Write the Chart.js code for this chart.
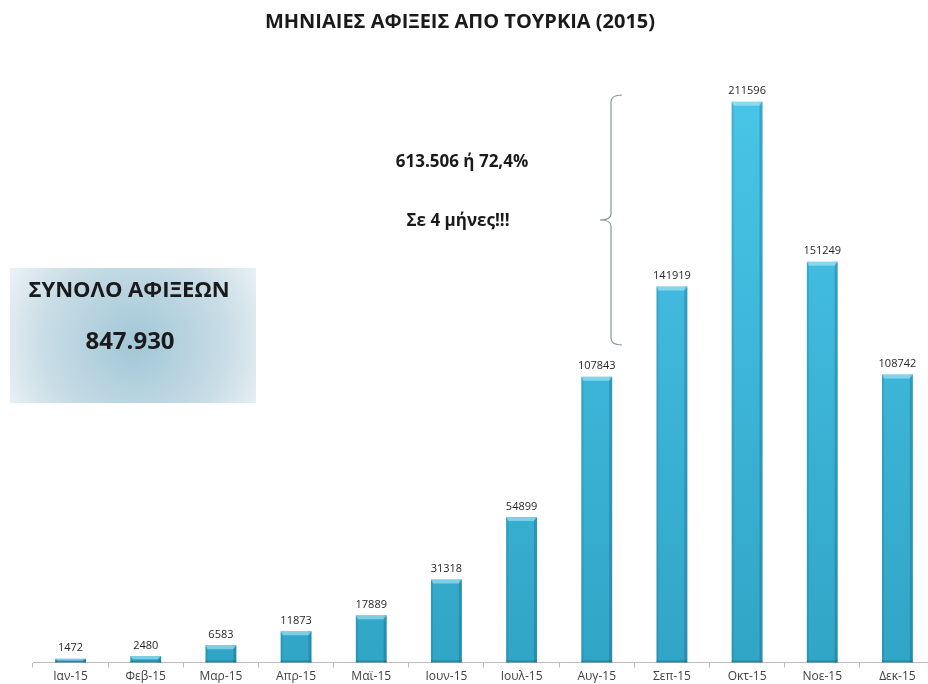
<!DOCTYPE html>
<html>
<head>
<meta charset="utf-8">
<script src="https://cdn.jsdelivr.net/npm/chart.js@4.4.1/dist/chart.umd.min.js"></script>
<style>
    html, body { margin: 0; padding: 0; background: #fff; overflow: hidden; }
    #wrap { width: 940px; height: 686px; }
</style>
</head>
<body>
<div id="wrap"><canvas id="arrivals"></canvas></div>
<script>
// Μηνιαίες αφίξεις από Τουρκία, 2015
const months = ['Ιαν-15', 'Φεβ-15', 'Μαρ-15', 'Απρ-15', 'Μαϊ-15', 'Ιουν-15',
                'Ιουλ-15', 'Αυγ-15', 'Σεπ-15', 'Οκτ-15', 'Νοε-15', 'Δεκ-15'];
const arrivals = [1472, 2480, 6583, 11873, 17889, 31318, 54899, 107843, 141919, 211596, 151249, 108742];

const chartTitle = 'ΜΗΝΙΑΙΕΣ ΑΦΙΞΕΙΣ ΑΠΟ ΤΟΥΡΚΙΑ (2015)';
const totalLabel = 'ΣΥΝΟΛΟ ΑΦΙΞΕΩΝ';
const totalValue = '847.930';
const peakNote = ['613.506 ή 72,4%', 'Σε 4 μήνες!!!'];

const FONT = '"Open Sans", "Noto Sans", sans-serif';

// bars: a little darker towards the bottom, bevelled edges drawn on top
function barFill(ctx) {
    const area = ctx.chart.chartArea;
    if (!area) return '#3bb5db';
    const g = ctx.chart.ctx.createLinearGradient(0, area.top, 0, area.bottom);
    g.addColorStop(0, '#4ccaee');
    g.addColorStop(1, '#31a5c6');
    return g;
}

const bevelPlugin = {
    id: 'bevel',
    afterDatasetsDraw(chart) {
        const c = chart.ctx;
        chart.getDatasetMeta(0).data.forEach(bar => {
            const w = bar.width, left = bar.x - w / 2, right = bar.x + w / 2;
            const top = bar.y, bottom = bar.base;
            const h = bottom - top;
            const e = Math.min(4, h / 2);
            c.save();
            // left and right edge shading
            c.fillStyle = 'rgba(10, 70, 100, 0.15)';
            c.fillRect(left, top, 2, h);
            c.fillStyle = 'rgba(10, 70, 100, 0.25)';
            c.fillRect(right - 3, top, 3, h);
            // light top cap
            c.fillStyle = 'rgba(200, 244, 255, 0.5)';
            c.beginPath();
            c.moveTo(left, top);
            c.lineTo(right, top);
            c.lineTo(right - 3, top + e);
            c.lineTo(left + 2, top + e);
            c.closePath();
            c.fill();
            // darker bottom lip
            c.fillStyle = 'rgba(10, 60, 85, 0.3)';
            c.fillRect(left, bottom - 2, w, 2);
            c.restore();
        });
    }
};

const valueLabels = {
    id: 'valueLabels',
    afterDatasetsDraw(chart) {
        const c = chart.ctx;
        c.save();
        c.font = '11px ' + FONT;
        c.fillStyle = '#262626';
        c.textAlign = 'center';
        c.textBaseline = 'bottom';
        chart.getDatasetMeta(0).data.forEach((bar, i) => {
            c.fillText(String(arrivals[i]), bar.x, bar.y - 5);
        });
        c.restore();
    }
};

const decorations = {
    id: 'decorations',
    beforeDatasetsDraw(chart) {
        const c = chart.ctx;
        c.save();
        // total box
        const bx = 10, by = 268, bw = 246, bh = 135;
        const rg = c.createRadialGradient(135, 345, 5, 135, 340, 150);
        rg.addColorStop(0, '#a3c8d8');
        rg.addColorStop(0.6, '#c9dde6');
        rg.addColorStop(1, '#eef4f7');
        c.fillStyle = rg;
        c.fillRect(bx, by, bw, bh);
        c.restore();
    },
    afterDraw(chart) {
        const c = chart.ctx;
        c.save();
        c.fillStyle = '#1a1a1a';
        c.textAlign = 'center';
        c.textBaseline = 'middle';

        c.font = 'bold 20px ' + FONT;
        c.fillText(chartTitle, 460, 22);

        c.font = 'bold 22px ' + FONT;
        c.fillText(totalLabel, 129, 291);
        c.font = 'bold 24px ' + FONT;
        c.fillText(totalValue, 130, 342);

        c.font = 'bold 17px ' + FONT;
        c.fillText(peakNote[0], 462, 162);
        c.fillText(peakNote[1], 458, 221);

        // brace over the four peak months
        c.strokeStyle = '#8496a0';
        c.lineWidth = 1.2;
        c.beginPath();
        c.moveTo(622, 95);
        c.quadraticCurveTo(611, 95, 611, 102);
        c.lineTo(611, 214);
        c.quadraticCurveTo(611, 220, 600, 220);
        c.quadraticCurveTo(611, 220, 611, 226);
        c.lineTo(611, 338);
        c.quadraticCurveTo(611, 345, 622, 345);
        c.stroke();
        c.restore();
    }
};

new Chart(document.getElementById('arrivals'), {
    type: 'bar',
    data: {
        labels: months,
        datasets: [{
            data: arrivals,
            backgroundColor: barFill,
            borderWidth: 0,
            barPercentage: 0.5,
            categoryPercentage: 0.82
        }]
    },
    options: {
        responsive: true,
        maintainAspectRatio: false,
        animation: false,
        layout: { padding: { left: 33, right: 5, top: 0, bottom: 0 } },
        plugins: {
            legend: { display: false },
            tooltip: { enabled: false }
        },
        scales: {
            x: {
                border: { color: '#bdbdbd', width: 1 },
                grid: { drawOnChartArea: false, tickLength: 5, color: '#bdbdbd' },
                ticks: { color: '#404040', font: { family: FONT, size: 12 }, padding: 2, maxRotation: 0 }
            },
            y: {
                display: false,
                min: 0,
                max: 250000
            }
        }
    },
    plugins: [decorations, bevelPlugin, valueLabels]
});
</script>
</body>
</html>
